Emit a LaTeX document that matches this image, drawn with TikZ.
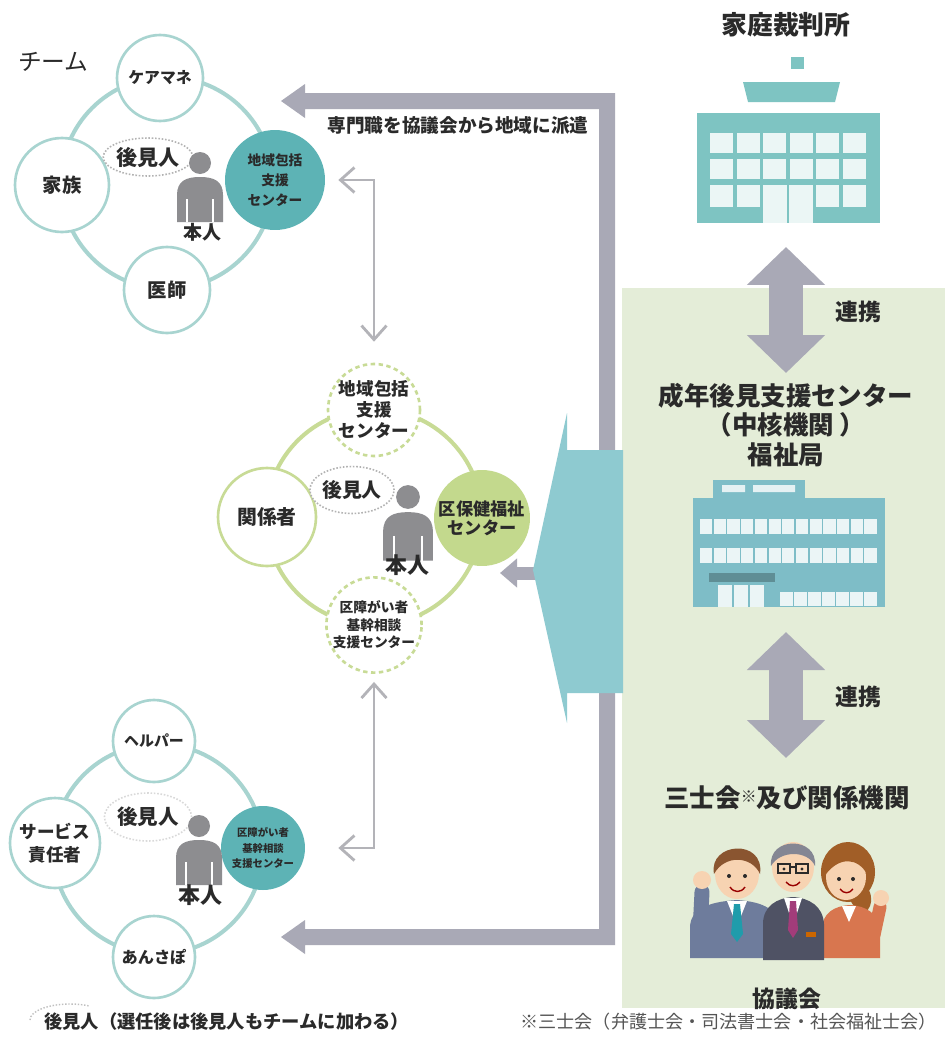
\documentclass[tikz,border=0pt]{standalone}
\usepackage{fontspec}
\newfontfamily\jp{Noto Sans CJK JP}
\usetikzlibrary{arrows.meta,shapes.geometric}

\definecolor{ringteal}{HTML}{A8D4D0}
\definecolor{fillteal}{HTML}{5DB3B5}
\definecolor{bldteal}{HTML}{7EC4C2}
\definecolor{bldblue}{HTML}{7EBDC7}
\definecolor{bigteal}{HTML}{8ECAD0}
\definecolor{ringgreen}{HTML}{C8DB96}
\definecolor{fillgreen}{HTML}{C3D98D}
\definecolor{panelgreen}{HTML}{E4EDD8}
\definecolor{arrowgray}{HTML}{A9A9B6}
\definecolor{linkgray}{HTML}{B3B3B8}
\definecolor{persongray}{HTML}{8D8D90}
\definecolor{ink}{HTML}{2A2A2A}
\definecolor{notegray}{HTML}{555555}
\definecolor{skin}{HTML}{F7D3B2}
\definecolor{suitblue}{HTML}{6E7C9C}
\definecolor{suitgray}{HTML}{4F5264}
\definecolor{jacket}{HTML}{D8764F}
\definecolor{hairbrown}{HTML}{8A5530}
\definecolor{tieteal}{HTML}{1F9CAB}
\definecolor{tiepink}{HTML}{A23C7A}

\tikzset{
  fs/.style 2 args={font=\jp\bfseries\fontsize{#1}{#2}\selectfont},
  personicon/.pic={
    \fill[persongray] (0,0) circle (11);
    \fill[persongray] (-23,59) -- (-23,32) .. controls (-23,18) and (-14,14) .. (0,14)
      .. controls (14,14) and (23,18) .. (23,32) -- (23,59) -- cycle;
    \draw[white, line width=0.8pt] (-13,36) -- (-13,59) (13,36) -- (13,59);
  }
}

\begin{document}
\begin{tikzpicture}[x=0.02cm, y=-0.02cm,
  every node/.style={text=ink, align=center, fs={9}{11}},
  ringT/.style={draw=ringteal, line width=2.3pt},
  ringG/.style={draw=ringgreen, line width=2.3pt},
  memberT/.style={circle, draw=ringteal, line width=1.5pt, fill=white, inner sep=0pt},
  hubT/.style={circle, fill=fillteal, inner sep=0pt},
  memberG/.style={circle, draw=ringgreen, line width=1.5pt, fill=white, inner sep=0pt},
  dashG/.style={memberG, dash pattern=on 2.5pt off 2pt},
  guard/.style={ellipse, draw=black!30, densely dotted, line width=0.9pt, fill=white, inner sep=0pt},
  link/.style={draw=linkgray, line width=1.6pt, {Straight Barb[length=0.28cm,width=0.5cm]}-{Straight Barb[length=0.28cm,width=0.5cm]}},
  relay/.style={draw=arrowgray, line width=0.68cm, {Triangle[length=0.76cm,width=1.52cm]}-{Triangle[length=0.76cm,width=1.52cm]}},
]
    \useasboundingbox (0,0) rectangle (945,1041);
    \fill[white] (0,0) rectangle (945,1041);

    % green panel behind the council side
    \fill[panelgreen] (622,288) rectangle (945,1008);

    % dispatch arrow (council -> teams)
    \fill[arrowgray] (281,101) -- (305,84) -- (305,93) -- (615,93) -- (615,945) -- (305,945)
        -- (305,954) -- (281,937) -- (305,920) -- (305,929) -- (599,929) -- (599,109)
        -- (305,109) -- (305,118) -- cycle;
    \node[fs={10.6}{12}] (dispatch) at (458,125) {専門職を協議会から地域に派遣};

    % team 1: 地域包括支援センター
    \draw[ringT] (167,183) circle (106);
    \node[memberT, minimum size=1.72cm, fs={9}{11}] (care) at (160,78) {ケアマネ};
    \node[memberT, minimum size=1.88cm, fs={11}{13}] (family) at (62,185) {家族};
    \node[memberT, minimum size=1.72cm, fs={11}{13}] (doctor) at (167,290) {医師};
    \node[hubT, minimum size=2cm, fs={7.8}{11.5}] (hub1) at (275,180) {地域包括\\支援\\センター};
    \node[guard, minimum width=1.54cm, minimum height=0.76cm, fs={12}{14}] (g1) at (148,157) {後見人};
    \pic at (200,163) {personicon};
    \node[fs={10.8}{12}] (self1) at (202,232) {本人};
    \node[font=\jp\fontsize{13.5}{15}\selectfont, anchor=west] (team) at (12,62) {チーム};

    % ward level
    \draw[ringG] (374,517) circle (108);
    \node[dashG, minimum size=1.84cm, fs={10}{12}] (mtop) at (374,410) {地域包括\\支援\\センター};
    \node[memberG, minimum size=1.96cm, fs={11.3}{13}] (rel) at (267,517) {関係者};
    \node[memberG, draw=none, fill=fillgreen, minimum size=1.92cm, fs={9.8}{11}] (ward) at (482,518) {区保健福祉\\センター};
    \node[dashG, minimum size=1.88cm, fs={7.8}{10}] (mbot) at (374,625) {区障がい者\\基幹相談\\支援センター};
    \node[guard, minimum width=1.44cm, minimum height=0.94cm, fs={11.3}{13}] (g2) at (352,490) {後見人};
    \pic[scale=1.08] at (408,497) {personicon};
    \node[fs={12.5}{14}] (self2) at (407,565) {本人};

    % team 2: 区障がい者基幹相談支援センター
    \draw[ringT] (158,849) circle (105);
    \node[memberT, minimum size=1.64cm, fs={8.5}{10}] (helper) at (154,741) {ヘルパー};
    \node[memberT, minimum size=1.8cm, fs={10}{13}] (svc) at (55,843) {サービス\\責任者};
    \node[memberT, minimum size=1.64cm, fs={9.2}{11}] (ansapo) at (154,957) {あんさぽ};
    \node[hubT, minimum size=1.68cm, fs={5.9}{9}] (hub3) at (263,848) {区障がい者\\基幹相談\\支援センター};
    \node[guard, draw=black!15, fill=none, minimum width=1.44cm, minimum height=0.96cm, fs={11.7}{13}] (g3) at (148,817) {後見人};
    \pic at (199,826) {personicon};
    \node[fs={12.5}{14}] (self3) at (200,895) {本人};

    % links between the teams and the ward
    \draw[link, shorten <=0.26cm, shorten >=0.42cm] (hub1.east) -| (mtop.north);
    \draw[link, shorten <=0.16cm, shorten >=0.66cm] (mbot.south) |- (hub3.east);

    % support from the centre to the ward
    \coordinate (tealtip) at (545,573);
    \coordinate (wardin) at (500,573);
    \draw[draw=arrowgray, line width=0.26cm, -{Triangle[length=0.34cm,width=0.56cm]}] (tealtip) -- (wardin);
    \fill[bigteal] (623,450) -- (567,450) -- (567,413) -- (533,570) -- (567,723) -- (567,693)
        -- (623,693) -- cycle;

    % family court
    \node[fs={14.7}{16}] (court) at (786,25) {家庭裁判所};
    \fill[bldteal] (791,57) rectangle (804,69);
    \fill[bldteal] (743,82) -- (840,82) -- (835,102) -- (748,102) -- cycle;
    \fill[bldteal] (697,113) rectangle (880,223);
    \foreach \t in {133,159}
      \foreach \c in {0,...,5}
        \fill[white, opacity=.85] ({710+\c*26.5},\t) rectangle ({733+\c*26.5},{\t+20});
    \foreach \c in {0,1,4,5}
      \fill[white, opacity=.85] ({710+\c*26.5},185) rectangle ({733+\c*26.5},207);
    \fill[white, opacity=.85] (763,185) rectangle (813,223);
    \draw[bldteal, line width=1.5pt] (788,185) -- (788,223);

    \coordinate (lk1a) at (786,247);
    \coordinate (lk1b) at (786,373);
    \draw[relay] (lk1a) -- (lk1b);
    \node[fs={13}{14}] (link1) at (858,312) {連携};

    % centre (welfare bureau)
    \node[fs={14.5}{17}] (center) at (786,425) {成年後見支援センター\\（中核機関 ）\\福祉局};
    \fill[bldblue] (713,480) rectangle (805,498);
    \fill[white, opacity=.8] (722,485) rectangle (745,492) (753,485) rectangle (795,492);
    \fill[bldblue] (693,498) rectangle (885,607);
    \foreach \y in {519,548}
      \foreach \c in {0,...,12}
        \fill[white, opacity=.85] ({700+\c*13.7},\y) rectangle ({712.2+\c*13.7},{\y+15});
    \foreach \c in {0,...,6}
      \fill[white, opacity=.85] ({780+\c*14},592) rectangle ({792.5+\c*14},606);
    \fill[bldblue!75!black] (709,573) rectangle (775,582);
    \fill[white, opacity=.85] (718,585) rectangle (764,607);
    \draw[bldblue, line width=1pt] (733,585) -- (733,607) (749,585) -- (749,607);

    \coordinate (lk2a) at (786,632);
    \coordinate (lk2b) at (786,758);
    \draw[relay] (lk2a) -- (lk2b);
    \node[fs={13}{14}] (link2) at (858,697) {連携};

    % professional bodies
    \node[fs={14.5}{16}] (council) at (787,798) {三士会{\fontsize{9}{9}\selectfont\raisebox{.6ex}{※}}及び関係機関};

    % woman (back right)
    \fill[hairbrown!80!orange] (848,872) ellipse [x radius=27, y radius=30];
    \fill[hairbrown!80!orange] (862,880) .. controls (876,895) and (873,910) .. (860,916) -- (850,900) -- cycle;
    \fill[jacket] (822,958) -- (822,930) .. controls (822,913) and (834,906) .. (850,905)
        .. controls (866,906) and (878,913) .. (880,930) -- (880,958) -- cycle;
    \fill[white] (842,906) -- (856,906) -- (849,922) -- cycle;
    \draw[jacket, line width=0.26cm, line cap=round] (874,935) -- (880,907);
    \fill[skin] (881,898) circle (8);
    \fill[skin] (846,877) ellipse [x radius=20, y radius=23];
    \fill[hairbrown!80!orange] (826,874) .. controls (824,846) and (868,846) .. (867,874)
        .. controls (858,858) and (840,856) .. (826,874) -- cycle;
    \fill[ink] (839,879) circle (2) (853,879) circle (2);
    \draw[red!60!black, line width=0.8pt] (840,889) .. controls (844,894) and (849,894) .. (853,889);

    % man on the left
    \fill[suitblue] (690,958) -- (690,928) .. controls (690,910) and (706,902) .. (737,900)
        .. controls (765,902) and (778,910) .. (779,928) -- (779,958) -- cycle;
    \draw[suitblue, line width=0.3cm, line cap=round] (700,932) -- (702,892);
    \fill[skin] (702,880) circle (9);
    \fill[white] (727,901) -- (747,901) -- (737,926) -- cycle;
    \fill[tieteal] (734,904) -- (740,904) -- (743,934) -- (737,942) -- (731,934) -- cycle;
    \fill[skin] (737,874) ellipse [x radius=22, y radius=25];
    \fill[hairbrown] (714,874) .. controls (708,842) and (765,838) .. (760,874)
        .. controls (752,856) and (725,854) .. (714,874) -- cycle;
    \fill[ink] (729,876) circle (2) (745,876) circle (2);
    \draw[red!60!black, line width=0.8pt] (730,887) .. controls (734,893) and (741,893) .. (745,887);

    % man in the middle
    \fill[suitgray] (763,960) -- (763,924) .. controls (763,906) and (777,898) .. (793,897)
        .. controls (809,898) and (823,906) .. (824,924) -- (824,960) -- cycle;
    \fill[white] (784,898) -- (802,898) -- (793,925) -- cycle;
    \fill[tiepink] (790,901) -- (796,901) -- (798,930) -- (793,938) -- (788,930) -- cycle;
    \fill[orange!80!black] (806,932) rectangle (816,937);
    \fill[skin] (793,867) ellipse [x radius=21, y radius=25];
    \fill[suitgray!70] (771,866) .. controls (768,836) and (818,836) .. (815,866)
        .. controls (808,850) and (780,850) .. (771,866) -- cycle;
    \draw[ink, line width=0.6pt] (778,864) rectangle (790,873) (796,864) rectangle (808,873) (790,867) -- (796,867);
    \fill[ink] (784,869) circle (1.6) (802,869) circle (1.6);
    \draw[red!60!black, line width=0.8pt] (786,882) .. controls (790,887) and (796,887) .. (800,882);

    \node[fs={13}{14}] (kyogikai) at (787,999) {協議会};

    % footnotes
    \draw[black!25, densely dotted, line width=0.8pt] (30,1020) arc (180:300:40 and 16);
    \node[fs={10.4}{12}, anchor=west] (note1) at (38,1022) {後見人（選任後は後見人もチームに加わる）};
    \node[font=\jp\fontsize{10.3}{12}\selectfont, text=notegray, anchor=east] (note2) at (943,1022) {※三士会（弁護士会・司法書士会・社会福祉士会）};
\end{tikzpicture}
\end{document}
